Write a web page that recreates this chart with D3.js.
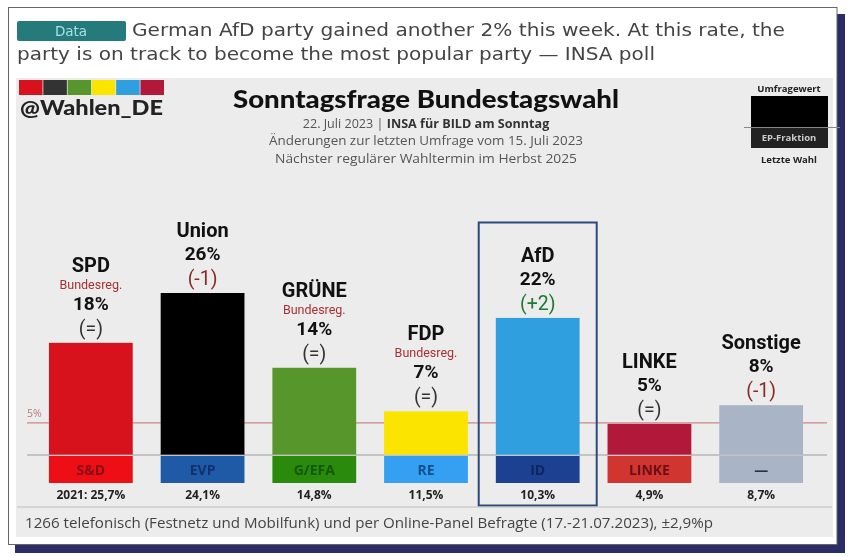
<!DOCTYPE html>
<html><head><meta charset="utf-8">
<script src="https://cdn.jsdelivr.net/npm/d3@7"></script>
<style>html,body{margin:0;padding:0;background:#fff}svg{display:block;filter:blur(.4px)}</style>
</head><body><svg id="c" width="848" height="557"></svg>
<script>
const parties=["SPD","Union","GRÜNE","FDP","AfD","LINKE","Sonstige"];
const values=[18,26,14,7,22,5,8];
const changes=["(=)","(-1)","(=)","(=)","(+2)","(=)","(-1)"];
const govNote=["Bundesreg.","","Bundesreg.","Bundesreg.","","",""];
const barColors=["#d8121c","#000000","#57962b","#fbe400","#2f9fe0","#b2183a","#a9b4c6"];
const epGroups=["S&D","EVP","G/EFA","RE","ID","LINKE","—"];
const epColors=["#ee0f16","#1f5aa6","#2a8a0c","#35a0f2","#1b4190","#d0352f","#a9b4c6"];
const epText=["#8a1016","#12306e","#14580a","#14508e","#0f2560","#6a0f18","#2a3040"];
const lastElection=["2021: 25,7%","24,1%","14,8%","11,5%","10,3%","4,9%","8,7%"];
const stripColors=["#d8121c","#333333","#57962b","#fbe400","#2f9fe0","#b2183a"];
const threshold=5;

const svg=d3.select("#c");
const sans="'Open Sans',sans-serif", dj="'DejaVu Sans',sans-serif", rob="Roboto,sans-serif";
function T(x,y,s,size,o={}){return svg.append("text").attr("x",x).attr("y",y).text(s)
  .attr("font-size",size).attr("font-family",o.f||sans).attr("font-weight",o.w||400)
  .attr("fill",o.c||"#222").attr("text-anchor",o.a||"middle")
  .attr("textLength",o.l||null).attr("lengthAdjust",o.l?"spacingAndGlyphs":null);}

// frame
svg.append("rect").attr("x",15).attr("y",14).attr("width",830).attr("height",539).attr("fill","#2b2d66");
svg.append("rect").attr("x",8.5).attr("y",7.5).attr("width",828.5).attr("height",537).attr("fill","#fff").attr("stroke","#666").attr("stroke-width",1);
svg.append("rect").attr("x",16).attr("y",78).attr("width",817).attr("height",459).attr("fill","#ececec");

// headline
svg.append("rect").attr("x",17).attr("y",21).attr("width",109).attr("height",20).attr("rx",2).attr("fill","#257a7c");
T(71,36,"Data",13.5,{c:"#a8e0e0",f:dj});
T(132,36,"German AfD party gained another 2% this week. At this rate, the",18,{a:"start",f:dj,c:"#444",l:653});
T(17,60,"party is on track to become the most popular party — INSA poll",18,{a:"start",f:dj,c:"#444",l:638});

// brand
const strip=d3.scaleBand().domain(d3.range(stripColors.length)).range([19,164]).paddingInner(.03);
svg.selectAll("rect.s").data(stripColors).join("rect").attr("class","s")
  .attr("x",(d,i)=>strip(i)).attr("y",80).attr("width",strip.bandwidth()).attr("height",15).attr("fill",d=>d);
T(20,115,"@Wahlen_DE",20.5,{a:"start",w:900,c:"#222",f:"Lato,sans-serif",l:143});

// titles
T(426,108,"Sonntagsfrage Bundestagswahl",24.5,{w:900,c:"#111",f:"Lato,sans-serif",l:386});
const sub=svg.append("text").attr("x",426).attr("y",128).attr("text-anchor","middle").attr("font-size",12.6).attr("font-family",sans).attr("fill","#555");
sub.append("tspan").text("22. Juli 2023 | ");
sub.append("tspan").text("INSA für BILD am Sonntag").attr("font-weight",700).attr("fill","#333");
T(426,145,"Änderungen zur letzten Umfrage vom 15. Juli 2023",13.2,{c:"#555",l:314});
T(426,163,"Nächster regulärer Wahltermin im Herbst 2025",13.2,{c:"#555",l:302});

// legend
svg.append("rect").attr("x",751).attr("y",96).attr("width",77).attr("height",52).attr("fill","#000");
svg.append("rect").attr("x",751).attr("y",127).attr("width",77).attr("height",21).attr("fill","#222");
T(789,92,"Umfragewert",9.5,{w:700,c:"#222"});
T(789,141,"EP-Fraktion",9.5,{w:700,c:"#ccc"});
T(789,163,"Letzte Wahl",9.5,{w:700,c:"#222"});
svg.append("line").attr("x1",744).attr("x2",840).attr("y1",127.5).attr("y2",127.5).attr("stroke","#888");

// scales
const x=d3.scaleBand().domain(parties).range([35,817]).paddingInner(.25).paddingOuter(.125);
const y=d3.scaleLinear().domain([0,26]).range([455,293]);
const lower=y(0)+28;

// reference lines (behind the bars)
svg.append("line").attr("x1",27).attr("x2",827).attr("y1",y(threshold)-1).attr("y2",y(threshold)-1).attr("stroke","#c98a86").attr("stroke-width",1.2);
svg.append("line").attr("x1",27).attr("x2",827).attr("y1",y(0)).attr("y2",y(0)).attr("stroke","#9a9a9a").attr("stroke-width",1.2);

// AfD highlight
svg.append("rect").attr("x",x("AfD")+x.bandwidth()/2-59).attr("y",222.5).attr("width",118).attr("height",283)
  .attr("fill","none").attr("stroke","#2b4a7a").attr("stroke-width",2);

// bars
svg.selectAll("rect.b").data(parties).join("rect").attr("class","b")
  .attr("x",d=>x(d)).attr("width",x.bandwidth())
  .attr("y",(d,i)=>y(values[i])).attr("height",(d,i)=>y(0)-y(values[i]))
  .attr("fill",(d,i)=>barColors[i]);
svg.selectAll("rect.e").data(parties).join("rect").attr("class","e")
  .attr("x",d=>x(d)).attr("width",x.bandwidth())
  .attr("y",y(0)+1).attr("height",lower-y(0)-1)
  .attr("fill",(d,i)=>epColors[i]);
svg.append("g").selectAll("line").data(parties).join("line")
  .attr("x1",d=>x(d)).attr("x2",d=>x(d)+x.bandwidth()).attr("y1",y(0)).attr("y2",y(0)).attr("stroke","#c8c8c8").attr("stroke-opacity",.7);
T(27,417,"5%",10.5,{a:"start",c:"#b77a78"});

// labels
parties.forEach((p,i)=>{
  const cx=x(p)+x.bandwidth()/2, top=y(values[i]);
  const chCol=changes[i]==="(-1)"?"#8a2a24":changes[i]==="(+2)"?"#1f7a2e":"#333";
  T(cx,top-8,changes[i],19.5,{c:chCol,f:rob});
  T(cx,top-33,values[i]+"%",19,{c:"#111",f:rob,w:700});
  let ny=top-56;
  if(govNote[i]){T(cx,top-54,govNote[i],12.5,{c:"#a83030",f:rob});ny=top-71;}
  T(cx,ny,p,20,{c:"#111",f:rob,w:700});
  T(cx,lower-8,epGroups[i],14,{c:epText[i],w:700,f:sans});
  T(cx,499,lastElection[i],12,{w:700,c:"#222",f:sans});
});

// footer
svg.append("line").attr("x1",17).attr("x2",832).attr("y1",507).attr("y2",507).attr("stroke","#bbb").attr("stroke-width",1.2);
T(25,528,"1266 telefonisch (Festnetz und Mobilfunk) und per Online-Panel Befragte (17.-21.07.2023), ±2,9%p",14.8,{a:"start",c:"#444",l:688});
</script></body></html>
